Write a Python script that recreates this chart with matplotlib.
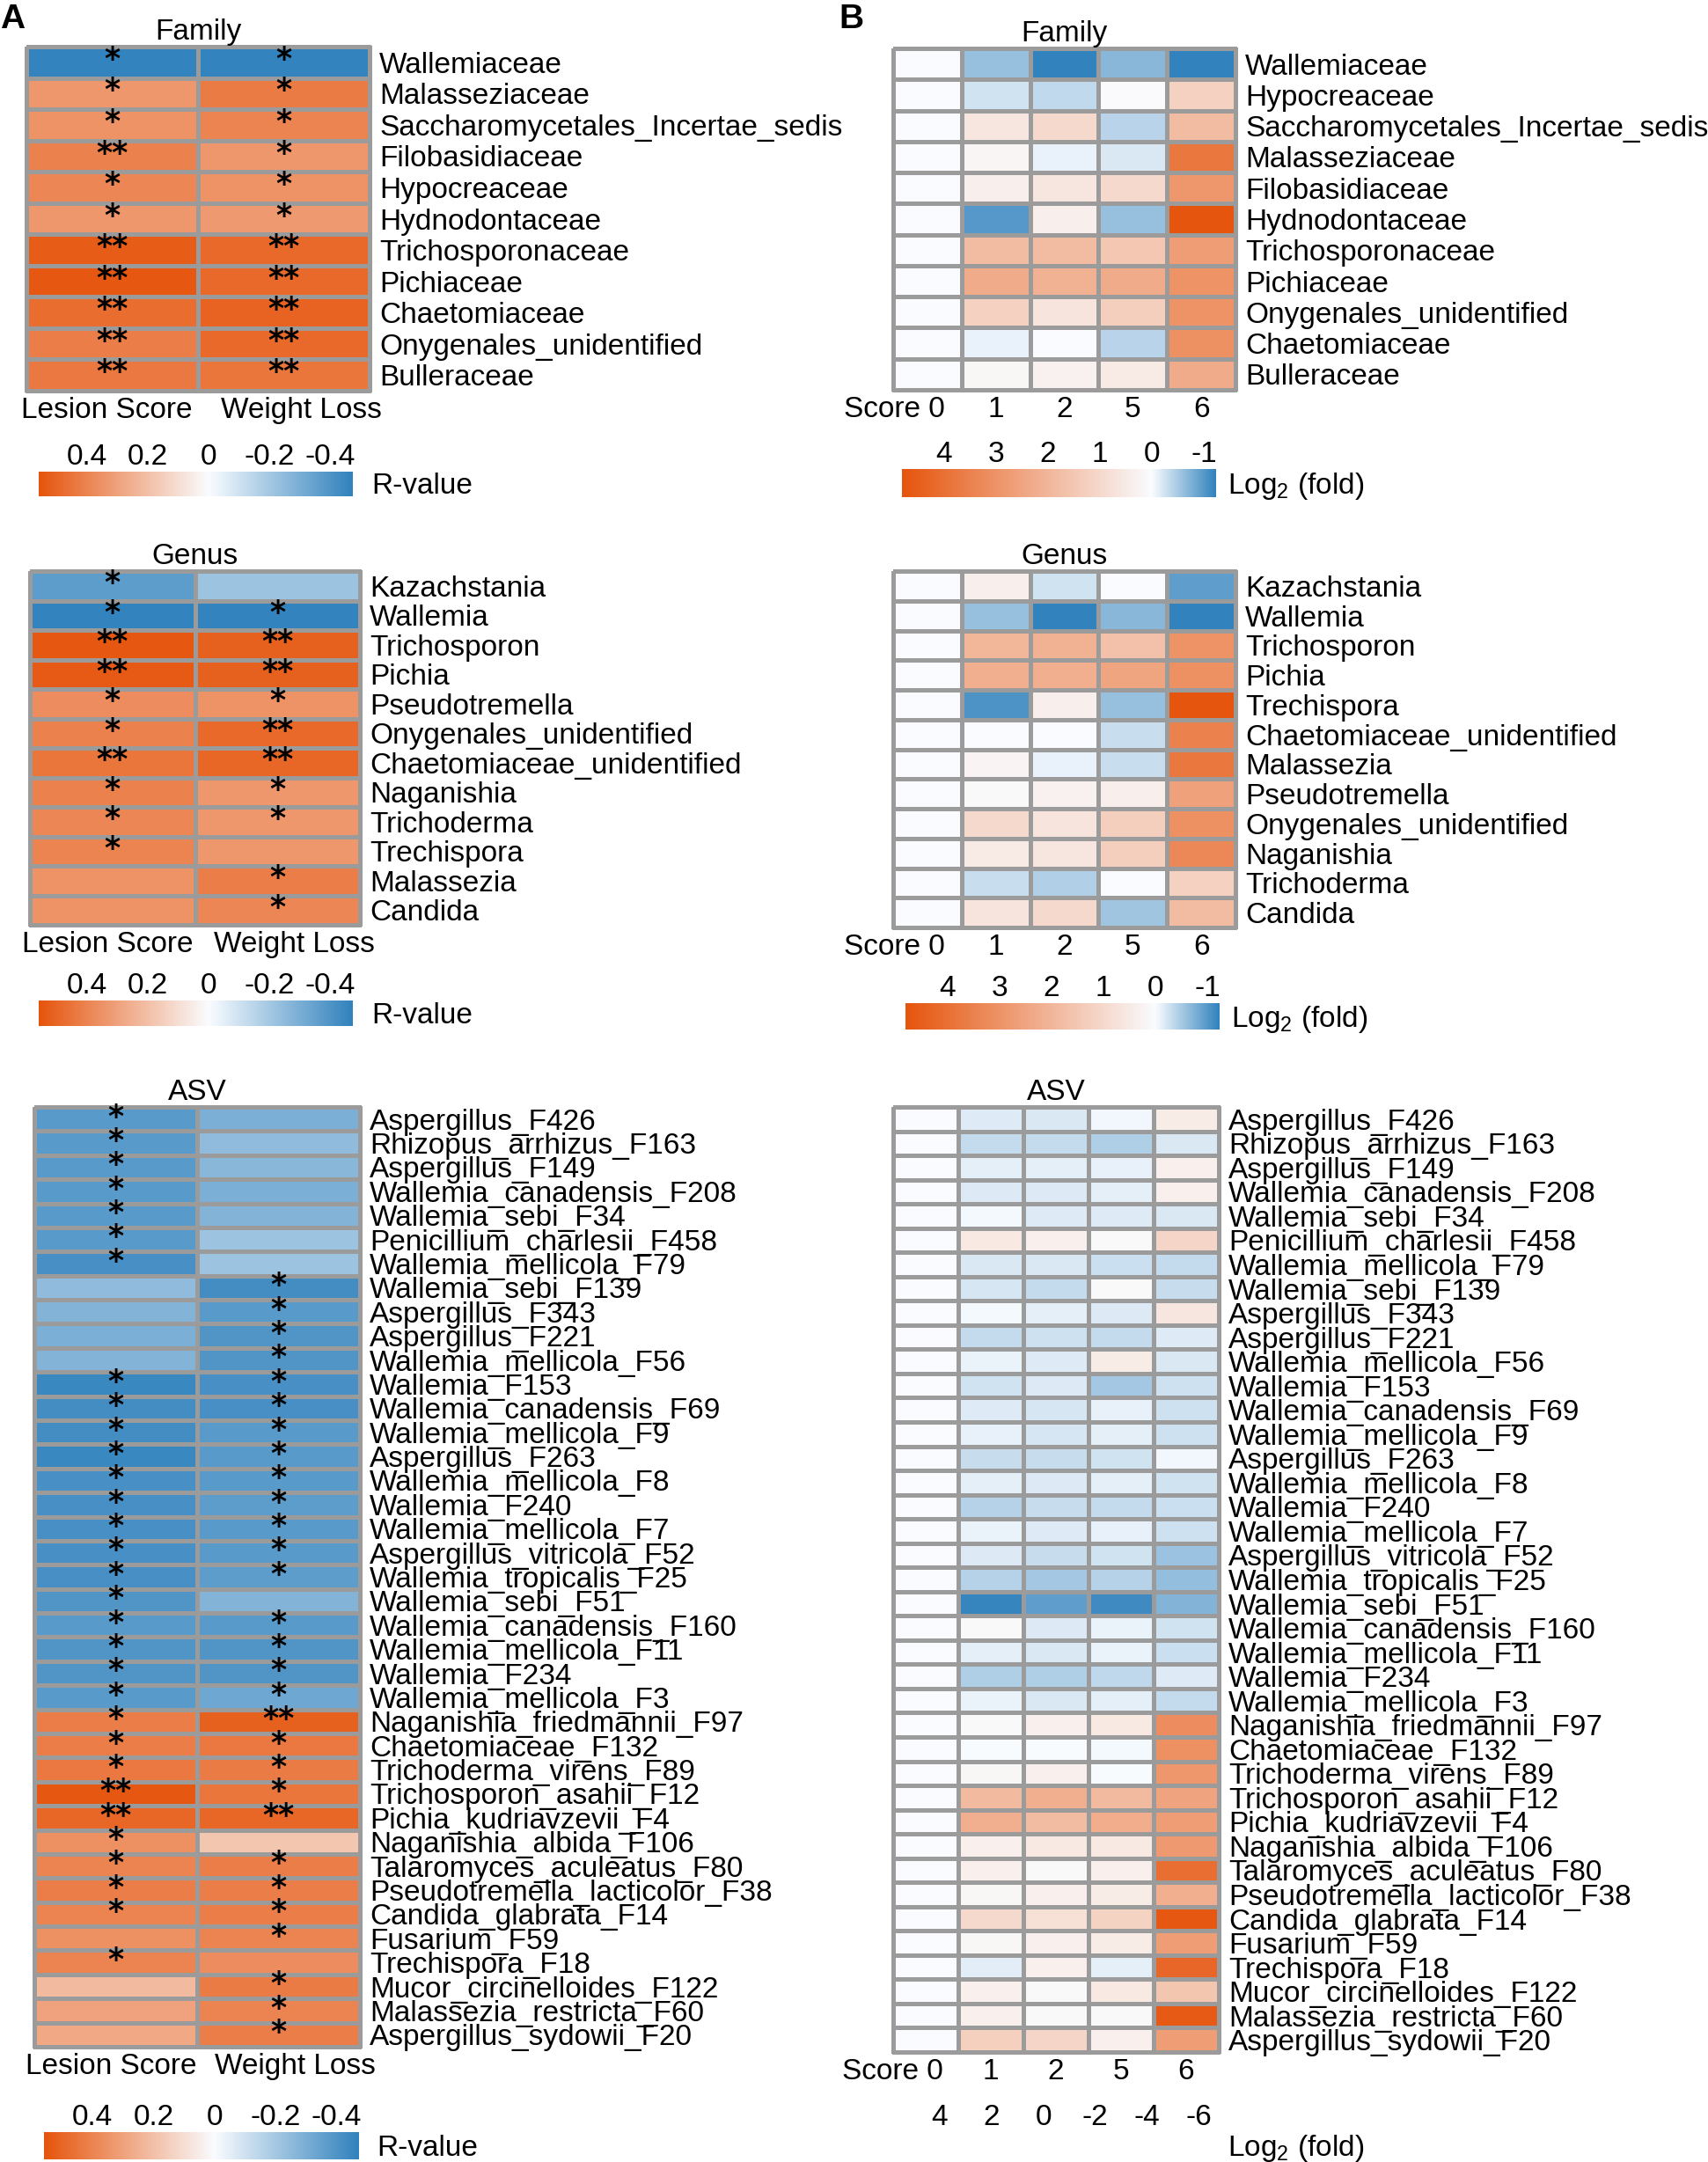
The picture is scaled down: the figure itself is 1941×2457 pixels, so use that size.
import numpy as np
import matplotlib.pyplot as plt
from matplotlib.colors import LinearSegmentedColormap, TwoSlopeNorm
from matplotlib.transforms import ScaledTranslation

plt.rcParams['font.family'] = ['Liberation Sans', 'DejaVu Sans']
plt.rcParams['mathtext.fontset'] = 'custom'
plt.rcParams['mathtext.rm'] = 'Liberation Sans'
plt.rcParams['mathtext.it'] = 'Liberation Sans:italic'

# ---------------- data ----------------
# A: correlation (R-value) with lesion score / weight loss
fam_a_rows = ['Wallemiaceae', 'Malasseziaceae', 'Saccharomycetales_Incertae_sedis',
              'Filobasidiaceae', 'Hypocreaceae', 'Hydnodontaceae', 'Trichosporonaceae',
              'Pichiaceae', 'Chaetomiaceae', 'Onygenales_unidentified', 'Bulleraceae']
fam_a_r = [[-0.47, -0.47], [0.34, 0.43], [0.35, 0.40], [0.41, 0.34], [0.39, 0.35],
           [0.34, 0.33], [0.53, 0.49], [0.55, 0.49], [0.48, 0.51], [0.42, 0.49],
           [0.44, 0.45]]
fam_a_sig = [['*', '*'], ['*', '*'], ['*', '*'], ['**', '*'], ['*', '*'], ['*', '*'],
             ['**', '**'], ['**', '**'], ['**', '**'], ['**', '**'], ['**', '**']]

gen_a_rows = ['Kazachstania', 'Wallemia', 'Trichosporon', 'Pichia', 'Pseudotremella',
              'Onygenales_unidentified', 'Chaetomiaceae_unidentified', 'Naganishia',
              'Trichoderma', 'Trechispora', 'Malassezia', 'Candida']
gen_a_r = [[-0.37, -0.22], [-0.47, -0.47], [0.55, 0.52], [0.54, 0.52], [0.37, 0.35],
           [0.41, 0.49], [0.45, 0.50], [0.41, 0.34], [0.39, 0.34], [0.40, 0.34],
           [0.35, 0.42], [0.35, 0.39]]
gen_a_sig = [['*', ''], ['*', '*'], ['**', '**'], ['**', '**'], ['*', '*'], ['*', '**'],
             ['**', '**'], ['*', '*'], ['*', '*'], ['*', ''], ['', '*'], ['', '*']]

asv_rows = ['Aspergillus_F426', 'Rhizopus_arrhizus_F163', 'Aspergillus_F149',
            'Wallemia_canadensis_F208', 'Wallemia_sebi_F34', 'Penicillium_charlesii_F458',
            'Wallemia_mellicola_F79', 'Wallemia_sebi_F139', 'Aspergillus_F343',
            'Aspergillus_F221', 'Wallemia_mellicola_F56', 'Wallemia_F153',
            'Wallemia_canadensis_F69', 'Wallemia_mellicola_F9', 'Aspergillus_F263',
            'Wallemia_mellicola_F8', 'Wallemia_F240', 'Wallemia_mellicola_F7',
            'Aspergillus_vitricola_F52', 'Wallemia_tropicalis_F25', 'Wallemia_sebi_F51',
            'Wallemia_canadensis_F160', 'Wallemia_mellicola_F11', 'Wallemia_F234',
            'Wallemia_mellicola_F3', 'Naganishia_friedmannii_F97', 'Chaetomiaceae_F132',
            'Trichoderma_virens_F89', 'Trichosporon_asahii_F12', 'Pichia_kudriavzevii_F4',
            'Naganishia_albida_F106', 'Talaromyces_aculeatus_F80',
            'Pseudotremella_lacticolor_F38', 'Candida_glabrata_F14', 'Fusarium_F59',
            'Trechispora_F18', 'Mucor_circinelloides_F122', 'Malassezia_restricta_F60',
            'Aspergillus_sydowii_F20']
asv_a_r = [[-0.38, -0.30], [-0.38, -0.25], [-0.38, -0.27], [-0.38, -0.30], [-0.38, -0.28],
           [-0.38, -0.22], [-0.42, -0.22], [-0.25, -0.43], [-0.28, -0.38], [-0.30, -0.40],
           [-0.28, -0.40], [-0.45, -0.42], [-0.43, -0.42], [-0.43, -0.38], [-0.45, -0.38],
           [-0.42, -0.38], [-0.42, -0.37], [-0.42, -0.38], [-0.42, -0.38], [-0.42, -0.37],
           [-0.40, -0.28], [-0.38, -0.38], [-0.40, -0.40], [-0.40, -0.40], [-0.38, -0.33],
           [0.42, 0.52], [0.42, 0.44], [0.44, 0.43], [0.55, 0.45], [0.50, 0.50],
           [0.36, 0.18], [0.40, 0.42], [0.42, 0.42], [0.40, 0.42], [0.36, 0.40],
           [0.40, 0.37], [0.22, 0.43], [0.30, 0.40], [0.28, 0.42]]
asv_a_sig = [['*', ''], ['*', ''], ['*', ''], ['*', ''], ['*', ''], ['*', ''], ['*', ''],
             ['', '*'], ['', '*'], ['', '*'], ['', '*'], ['*', '*'], ['*', '*'], ['*', '*'],
             ['*', '*'], ['*', '*'], ['*', '*'], ['*', '*'], ['*', '*'], ['*', '*'],
             ['*', ''], ['*', '*'], ['*', '*'], ['*', '*'], ['*', '*'], ['*', '**'],
             ['*', '*'], ['*', '*'], ['**', '*'], ['**', '**'], ['*', ''], ['*', '*'],
             ['*', '*'], ['*', '*'], ['', '*'], ['*', ''], ['', '*'], ['', '*'], ['', '*']]

# B: log2 fold change by lesion score
score_labels = ['Score 0', '1', '2', '5', '6']
fam_b_rows = ['Wallemiaceae', 'Hypocreaceae', 'Saccharomycetales_Incertae_sedis',
              'Malasseziaceae', 'Filobasidiaceae', 'Hydnodontaceae', 'Trichosporonaceae',
              'Pichiaceae', 'Onygenales_unidentified', 'Chaetomiaceae', 'Bulleraceae']
fam_b_fc = [[0, -0.6, -1.25, -0.7, -1.25], [0, -0.25, -0.35, 0.05, 1.2],
            [0, 0.6, 1.0, -0.4, 1.8], [0, 0.2, -0.1, -0.2, 3.8],
            [0, 0.4, 0.6, 1.0, 2.9], [0, -1.0, 0.4, -0.6, 4.8],
            [0, 1.8, 1.8, 1.5, 2.7], [0, 2.3, 2.1, 2.3, 3.0],
            [0, 1.2, 0.7, 1.3, 3.0], [0, -0.1, 0.0, -0.4, 3.1],
            [0, 0.15, 0.3, 0.5, 2.3]]

gen_b_rows = ['Kazachstania', 'Wallemia', 'Trichosporon', 'Pichia', 'Trechispora',
              'Chaetomiaceae_unidentified', 'Malassezia', 'Pseudotremella',
              'Onygenales_unidentified', 'Naganishia', 'Trichoderma', 'Candida']
gen_b_fc = [[0, 0.4, -0.25, 0.0, -0.95], [0, -0.6, -1.25, -0.7, -1.25],
            [0, 2.0, 2.1, 1.7, 3.0], [0, 2.2, 2.2, 2.5, 3.1],
            [0, -1.05, 0.4, -0.6, 4.8], [0, 0.0, 0.0, -0.3, 3.5],
            [0, 0.25, -0.1, -0.3, 3.8], [0, 0.1, 0.3, 0.4, 2.6],
            [0, 1.0, 0.7, 1.3, 3.1], [0, 0.5, 0.6, 1.3, 3.3],
            [0, -0.3, -0.45, 0.0, 1.2], [0, 0.7, 1.0, -0.55, 1.8]]

asv_b_fc = [[0, -0.9, -1.1, -0.3, 0.5], [0, -1.8, -1.8, -2.5, -1.1],
            [0, -0.7, -0.7, -0.6, 0.4], [0, -1.0, -1.0, -0.7, 0.4],
            [0, -0.2, -0.9, -0.9, -1.1], [0, 0.6, 0.4, 0.1, 1.2],
            [0, -1.1, -1.1, -1.6, -1.8], [0, -1.2, -1.8, 0.1, -1.7],
            [0, -0.2, -0.7, -1.0, 0.7], [0, -1.8, -1.5, -1.8, -0.9],
            [0, -0.5, -0.9, 0.5, -1.1], [0, -1.4, -1.0, -2.9, -1.5],
            [0, -0.9, -1.2, -0.6, -1.5], [0, -0.6, -1.2, -0.7, -1.5],
            [0, -1.7, -1.7, -1.4, -0.3], [0, -0.7, -1.0, -0.7, -1.4],
            [0, -2.3, -1.7, -1.8, -1.6], [0, -0.5, -0.9, -0.6, -1.5],
            [0, -1.0, -1.7, -1.4, -3.2], [0, -2.3, -2.9, -2.3, -3.4],
            [0, -6.6, -5.2, -6.3, -4.0], [0, 0.1, -1.0, -0.5, -1.4],
            [0, -0.7, -1.1, -0.5, -1.6], [0, -2.5, -2.5, -2.0, -0.9],
            [0, -0.5, -1.1, -0.7, -1.8], [0, 0.1, 0.4, 0.6, 3.5],
            [0, -0.1, -0.1, -0.2, 3.4], [0, 0.2, 0.4, -0.1, 3.2],
            [0, 2.1, 2.4, 2.1, 2.8], [0, 2.4, 2.0, 2.5, 3.0],
            [0, 0.4, 0.6, 0.6, 3.1], [0, 0.4, 0.1, 0.4, 4.5],
            [0, 0.2, 0.4, 0.5, 2.4], [0, 1.1, 0.9, 1.3, 5.2],
            [0, 0.2, 0.4, 0.5, 3.0], [0, -0.8, 0.4, -0.7, 4.7],
            [0, 0.4, 0.1, 0.6, 1.7], [0, 0.4, 0.1, 0.1, 5.1],
            [0, 1.4, 1.2, 0.4, 3.0]]

r_ticks = [0.4, 0.2, 0, -0.2, -0.4]
fc_ticks = [4, 3, 2, 1, 0, -1]
asv_fc_ticks = [4, 2, 0, -2, -4, -6]

# colour scale limits (orange end, blue end)
r_lim = (0.56, -0.475)
fc_lim = (4.8, -1.23)
asv_fc_lim = (5.29, -6.77)

# ---------------- drawing ----------------
FS = 24
W, H = 1941, 2457
cmap = LinearSegmentedColormap.from_list('ob', ['#3182BD', '#FAFCFF', '#E6550D'])

fig = plt.figure(figsize=(W / 100, H / 100), dpi=100)


def box(x0, y0, x1, y1):
    return fig.add_axes([x0 / W, 1 - y1 / H, (x1 - x0) / W, (y1 - y0) / H])


def heat(ax, vals, rows, lim, title, sig=None):
    vals = np.asarray(vals, dtype=float)
    norm = TwoSlopeNorm(vcenter=0, vmin=lim[1], vmax=lim[0])
    ax.pcolormesh(vals, cmap=cmap, norm=norm, edgecolors='#9b9b9b',
                  linewidth=2.4, clip_on=False)
    ax.set_xlim(0, vals.shape[1])
    ax.set_ylim(vals.shape[0], 0)
    for s in ax.spines.values():
        s.set_visible(False)
    ax.yaxis.tick_right()
    ax.set_yticks(np.arange(len(rows)) + 0.5, rows)
    ax.tick_params(axis='both', length=0, labelsize=FS)
    ax.tick_params(axis='y', pad=8)
    ax.tick_params(axis='x', pad=5)
    ax.set_title(title, fontsize=FS, pad=6)
    if sig:
        for i, row in enumerate(sig):
            for j, s in enumerate(row):
                if s:
                    ax.text(j + 0.5, i + 0.42, s, ha='center', va='center',
                            fontsize=25, family='DejaVu Sans', fontweight='bold')


def a_xlabels(ax):
    ax.set_xticks([0.47, 1.6], ['Lesion Score', 'Weight Loss'])


def b_xlabels(ax):
    ax.set_xticks(np.arange(5) + 0.5, score_labels)
    t0 = ax.get_xticklabels()[0]
    t0.set_ha('right')
    t0.set_transform(t0.get_transform() + ScaledTranslation(0.2, 0, fig.dpi_scale_trans))


def cbar(bx, lim, ticks, label, dx, draw=True):
    ax = box(*bx)
    hi, lo = lim
    if draw:
        norm = TwoSlopeNorm(vcenter=0, vmin=lo, vmax=hi)
        g = np.linspace(lo, hi, 600)[None, :]
        ax.imshow(g, extent=[lo, hi, 0, 1], aspect='auto', cmap=cmap, norm=norm)
    ax.set_xlim(hi, lo)
    ax.set_ylim(0, 1)
    ax.xaxis.tick_top()
    ax.set_xticks(ticks, [('%g' % t) for t in ticks])
    ax.set_yticks([])
    ax.tick_params(length=0, pad=0.5, labelsize=FS)
    for s in ax.spines.values():
        s.set_visible(False)
    ax.text(1 + dx / (bx[2] - bx[0]), 0.4, label, transform=ax.transAxes,
            va='center', ha='left', fontsize=FS)


# panel A
ax = box(30, 53, 420, 444)
heat(ax, fam_a_r, fam_a_rows, r_lim, 'Family', fam_a_sig)
a_xlabels(ax)
ax = box(34, 649, 409, 1051)
heat(ax, gen_a_r, gen_a_rows, r_lim, 'Genus', gen_a_sig)
a_xlabels(ax)
ax = box(39, 1258, 409, 2326)
heat(ax, asv_a_r, asv_rows, r_lim, 'ASV', asv_a_sig)
a_xlabels(ax)

cbar((44, 536, 401, 564), r_lim, r_ticks, 'R-value', 21)
cbar((44, 1137, 401, 1166), r_lim, r_ticks, 'R-value', 21)
cbar((50, 2423, 408, 2454), r_lim, r_ticks, 'R-value', 20)

# panel B
ax = box(1015, 55, 1404, 443)
heat(ax, fam_b_fc, fam_b_rows, fc_lim, 'Family')
b_xlabels(ax)
ax = box(1015, 649, 1404, 1054)
heat(ax, gen_b_fc, gen_b_rows, fc_lim, 'Genus')
b_xlabels(ax)
ax = box(1015, 1258, 1385, 2332)
heat(ax, asv_b_fc, asv_rows, asv_fc_lim, 'ASV')
b_xlabels(ax)

cbar((1025, 533, 1382, 565), fc_lim, fc_ticks, 'Log$_2$ (fold)', 13)
cbar((1029, 1140, 1386, 1170), fc_lim, fc_ticks, 'Log$_2$ (fold)', 13)
cbar((1030, 2423, 1385, 2454), asv_fc_lim, asv_fc_ticks, 'Log$_2$ (fold)', 10, draw=False)

fig.text(0 / W, 1 - 22 / H, 'A', fontsize=28, fontweight='bold', va='center', ha='left')
fig.text(953 / W, 1 - 22 / H, 'B', fontsize=28, fontweight='bold', va='center', ha='left')

fig.savefig('out.png', dpi=100)
